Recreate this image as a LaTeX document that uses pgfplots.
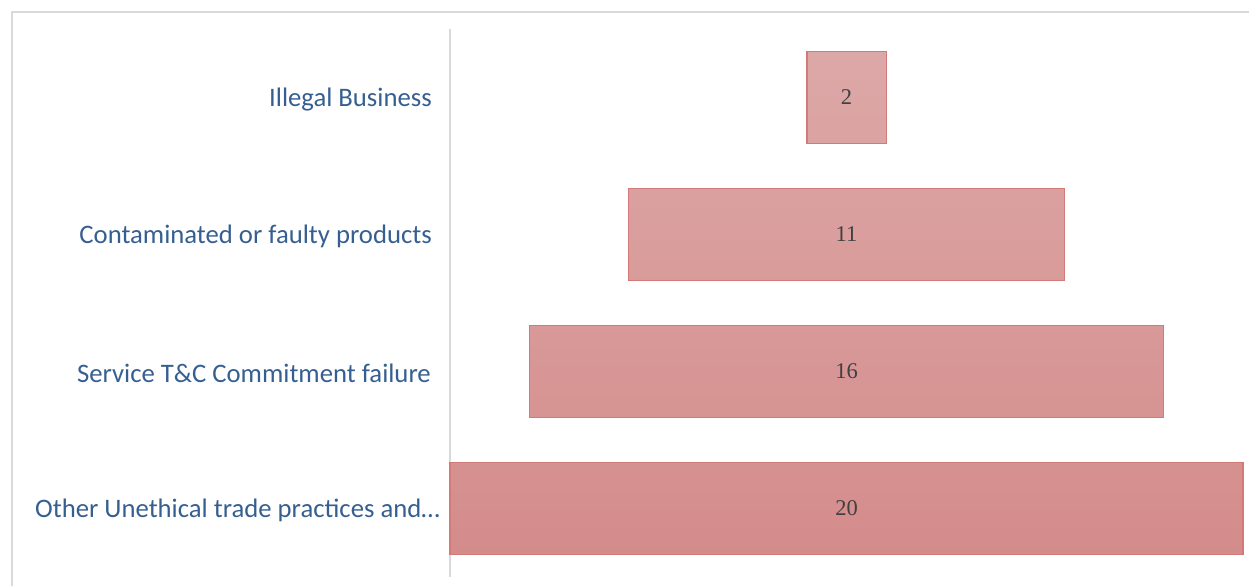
\documentclass[border=0pt]{standalone}
\usepackage{pgfplots}
\pgfplotsset{compat=1.18}
\usepackage{fontspec}
\setmainfont{Carlito}
\newfontfamily\numfont{Liberation Serif}
\definecolor{lblue}{RGB}{54,95,145}
\definecolor{bordc}{RGB}{210,122,120}
\definecolor{gridg}{RGB}{217,217,217}
\definecolor{bartop}{RGB}{220,168,167}
\definecolor{barbot}{RGB}{212,140,139}
\definecolor{numc}{RGB}{64,64,64}
\begin{document}
\begin{tikzpicture}
\useasboundingbox (0pt,0pt) rectangle (1249pt,586pt);
\draw[gridg, line width=1.5pt] (12pt,0pt) -- (12pt,574pt) -- (1249pt,574pt);
\begin{axis}[
  at={(450pt,9pt)}, anchor=south west,
  scale only axis, width=793pt, height=548pt,
  xmin=0, xmax=20, ymin=-0.5, ymax=3.5,
  xbar stacked, bar width=92pt,
  hide x axis,
  axis y line*=left,
  y axis line style={gridg, line width=2pt, -},
  ytick={0,1,2,3},
  yticklabels={Other Unethical trade practices and…,Service T\&C Commitment failure\kern9pt,Contaminated or faulty products\kern8pt,Illegal Business\kern8pt},
  major tick length=0pt,
  yticklabel style={font=\fontsize{26.7}{29}\selectfont, text=lblue, inner xsep=0pt, xshift=-10pt, yshift=-2pt},
  clip=false,
]
\addplot[draw=none, fill=none] coordinates {(0,0) (2,1) (4.5,2) (9,3)};
\addplot[draw=bordc, line width=1.3pt, top color=bartop, bottom color=barbot,
  nodes near coords, point meta=explicit symbolic,
  every node near coord/.append style={anchor=center, font=\numfont\fontsize{22.5}{24}\selectfont, text=numc}]
  coordinates {(20,0)[20] (16,1)[16] (11,2)[11] (2,3)[2]};
\end{axis}
\end{tikzpicture}
\end{document}
